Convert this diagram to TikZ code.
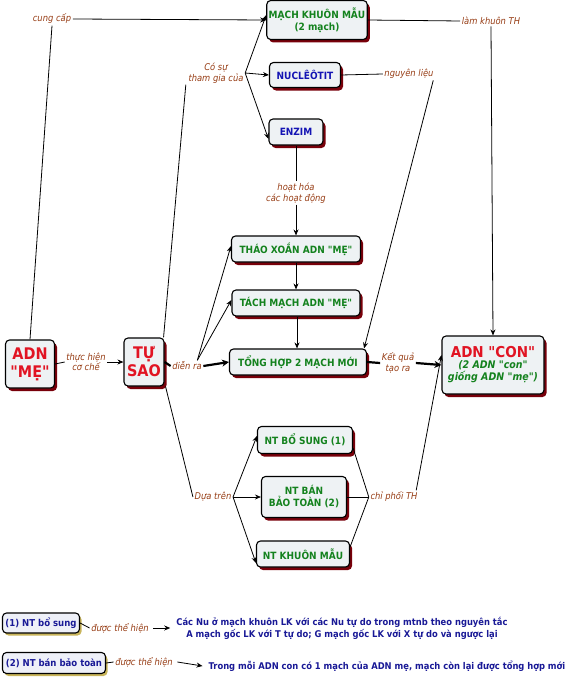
\documentclass[tikz,border=0pt]{standalone}
\usepackage{fontspec}
\setmainfont{DejaVu Sans Condensed}[Ligatures=TeXOff]
\usetikzlibrary{arrows.meta,shadows}
\definecolor{boxfill}{RGB}{238,242,244}
\definecolor{shred}{RGB}{120,0,10}
\definecolor{txtgreen}{RGB}{20,130,30}
\definecolor{txtblue}{RGB}{20,20,180}
\definecolor{txtred}{RGB}{225,20,35}
\definecolor{lblbrown}{RGB}{150,60,20}
\definecolor{legfill}{RGB}{238,240,248}
\definecolor{legshadow}{RGB}{200,180,90}
\definecolor{legtxt}{RGB}{25,25,150}
\begin{document}
\begin{tikzpicture}[x=1pt,y=-1pt,
  box/.style={draw=black, line width=1.1pt, rounded corners=4pt, fill=boxfill,
    drop shadow={shadow xshift=2.5pt, shadow yshift=-3pt, fill=shred, opacity=1},
    align=center, font=\fontsize{10}{12}\selectfont\bfseries, inner sep=2pt},
  gbox/.style={box, text=txtgreen},
  bbox/.style={box, text=txtblue},
  rbox/.style={box, text=txtred, font=\fontsize{16}{18}\selectfont\bfseries},
  lbl/.style={text=lblbrown, font=\fontsize{9.3}{10.5}\selectfont\itshape, align=center, inner sep=1.5pt},
  legbox/.style={draw=black, line width=1.1pt, rounded corners=4pt, fill=legfill,
    drop shadow={shadow xshift=2pt, shadow yshift=-2.5pt, fill=legshadow, opacity=1},
    text=legtxt, font=\fontsize{9.5}{11}\selectfont\bfseries, inner sep=3pt},
  legtext/.style={text=legtxt, font=\fontsize{9.3}{12}\selectfont\bfseries, align=center, inner sep=1pt},
  ln/.style={line width=0.8pt},
  arr/.style={ln, -{Stealth[length=6pt,width=5pt]}},
  thk/.style={line width=2.2pt},
  tarr/.style={thk, -{Stealth[length=7pt,width=7pt]}}
]
\useasboundingbox (0,0) rectangle (575,685);

% boxes
\node[gbox, minimum width=97, minimum height=39] (mach) at (317,20) {MẠCH KHUÔN MẪU\\(2 mạch)};
\node[bbox, minimum width=71, minimum height=25] (nu) at (305,75) {NUCLÊÔTIT};
\node[bbox, minimum width=54, minimum height=26] (enzim) at (296,132) {ENZIM};
\node[gbox, minimum width=129, minimum height=26] (thao) at (296,249) {THÁO XOẮN ADN "MẸ"};
\node[gbox, minimum width=128, minimum height=26] (tach) at (296,303) {TÁCH MẠCH ADN "MẸ"};
\node[gbox, minimum width=137, minimum height=26] (tong) at (298,362) {TỔNG HỢP 2 MẠCH MỚI};
\node[rbox, minimum width=49, minimum height=48] (me) at (30,364) {ADN\\"MẸ"};
\node[rbox, minimum width=40, minimum height=48] (tusao) at (144,362) {TỰ\\SAO};
\node[box, text=txtgreen, font=\fontsize{10.5}{12}\selectfont\bfseries\itshape,
  minimum width=102, minimum height=58] (con) at (493,365)
  {\textcolor{txtred}{\fontsize{15}{17}\selectfont\upshape ADN "CON"}\\[-1pt]
   (2 ADN "con"\\giống ADN "mẹ")};
\node[gbox, minimum width=95, minimum height=27] (bosung) at (305,440) {NT BỔ SUNG (1)};
\node[gbox, minimum width=85, minimum height=41] (ban) at (304,497) {NT BÁN\\BẢO TOÀN (2)};
\node[gbox, minimum width=93, minimum height=26] (khuon) at (303,554) {NT KHUÔN MẪU};

% labels
\node[lbl] (cungcap) at (52,19) {cung cấp};
\node[lbl] (cosu) at (216,73) {Có sự\\tham gia của};
\node[lbl] (nguyen) at (409,74) {nguyên liệu};
\node[lbl] (lamkhuon) at (491,21) {làm khuôn TH};
\node[lbl] (hoathoa) at (296,193) {hoạt hóa\\các hoạt động};
\node[lbl] (thuchien) at (86,362) {thực hiện\\cơ chế};
\node[lbl] (dienra) at (187,366) {diễn ra};
\node[lbl] (ketqua) at (398,363) {Kết quả\\tạo ra};
\node[lbl] (duatren) at (213,497) {Dựa trên};
\node[lbl] (chiphoi) at (394,497) {chỉ phối TH};

% connectors top
\draw[ln] (me.north) -- (cungcap.south);
\draw[arr] (cungcap.east) -- (mach.west);
\draw[ln] (mach.east) -- (lamkhuon.west);
\draw[arr] (lamkhuon.south) -- (con.north);
\draw[ln] (nu.east) -- (nguyen.west);
\draw[arr] ([xshift=-2pt]nguyen.south east) -- ([xshift=-3pt]tong.north east);
\draw[ln] ([xshift=-1pt]tusao.north east) -- ([xshift=-1pt]cosu.south west);
\draw[arr] (cosu.east) -- ([yshift=5pt]mach.west);
\draw[arr] (cosu.east) -- (nu.west);
\draw[arr] (cosu.east) -- ([yshift=-7pt]enzim.west);
\draw[ln] (enzim.south) -- (hoathoa.north);
\draw[arr] (hoathoa.south) -- (thao.north);
\draw[arr] (thao.south) -- (tach.north);
\draw[arr] ([xshift=1pt]tach.south) -- ([xshift=-1pt]tong.north);

% middle row
\draw[ln] (me.east) -- (thuchien.west);
\draw[arr] (thuchien.east) -- (tusao.west);
\draw[thk] (tusao.east) -- (dienra.west);
\draw[tarr] (dienra.east) -- (tong.west);
\draw[arr] ([xshift=-6pt]dienra.north east) -- ([yshift=3pt]thao.west);
\draw[arr] ([xshift=-6pt]dienra.north east) -- ([yshift=3pt]tach.west);
\draw[thk] (tong.east) -- (ketqua.west);
\draw[tarr] (ketqua.east) -- (con.west);

% bottom group
\draw[ln] ([xshift=1pt]tusao.south east) -- (duatren.west);
\draw[arr] (duatren.east) -- ([yshift=4pt]bosung.west);
\draw[arr] (duatren.east) -- (ban.west);
\draw[arr] (duatren.east) -- ([yshift=-9pt]khuon.west);
\draw[ln] ([yshift=-8pt]bosung.east) -- (chiphoi.west);
\draw[ln] (ban.east) -- (chiphoi.west);
\draw[ln] ([yshift=7pt]khuon.east) -- (chiphoi.west);
\draw[arr] ([xshift=-3pt]chiphoi.north east) -- ([yshift=10pt]con.west);

% legend
\node[legbox, minimum width=75, minimum height=20] (leg1) at (41,623) {(1) NT bổ sung};
\node[lbl] (dth1) at (120,628) {được thể hiện};
\node[legtext] (t1) at (342,628) {Các Nu ở mạch khuôn LK với các Nu tự do trong mtnb theo nguyên tắc\\A mạch gốc LK với T tự do; G mạch gốc LK với X tự do và ngược lại};
\draw[ln] (leg1.east) -- (dth1.west);
\draw[arr] ([xshift=3pt]dth1.east) -- ([xshift=-5pt]t1.west);

\node[legbox, minimum width=103, minimum height=21] (leg2) at (54,663) {(2) NT bán bảo toàn};
\node[lbl] (dth2) at (144,662) {được thể hiện};
\node[legtext] (t2) at (387,666) {Trong mỗi ADN con có 1 mạch của ADN mẹ, mạch còn lại được tổng hợp mới};
\draw[ln] (leg2.east) -- (dth2.west);
\draw[arr] ([xshift=3pt]dth2.east) -- ([xshift=-5pt]t2.west);
\end{tikzpicture}
\end{document}
